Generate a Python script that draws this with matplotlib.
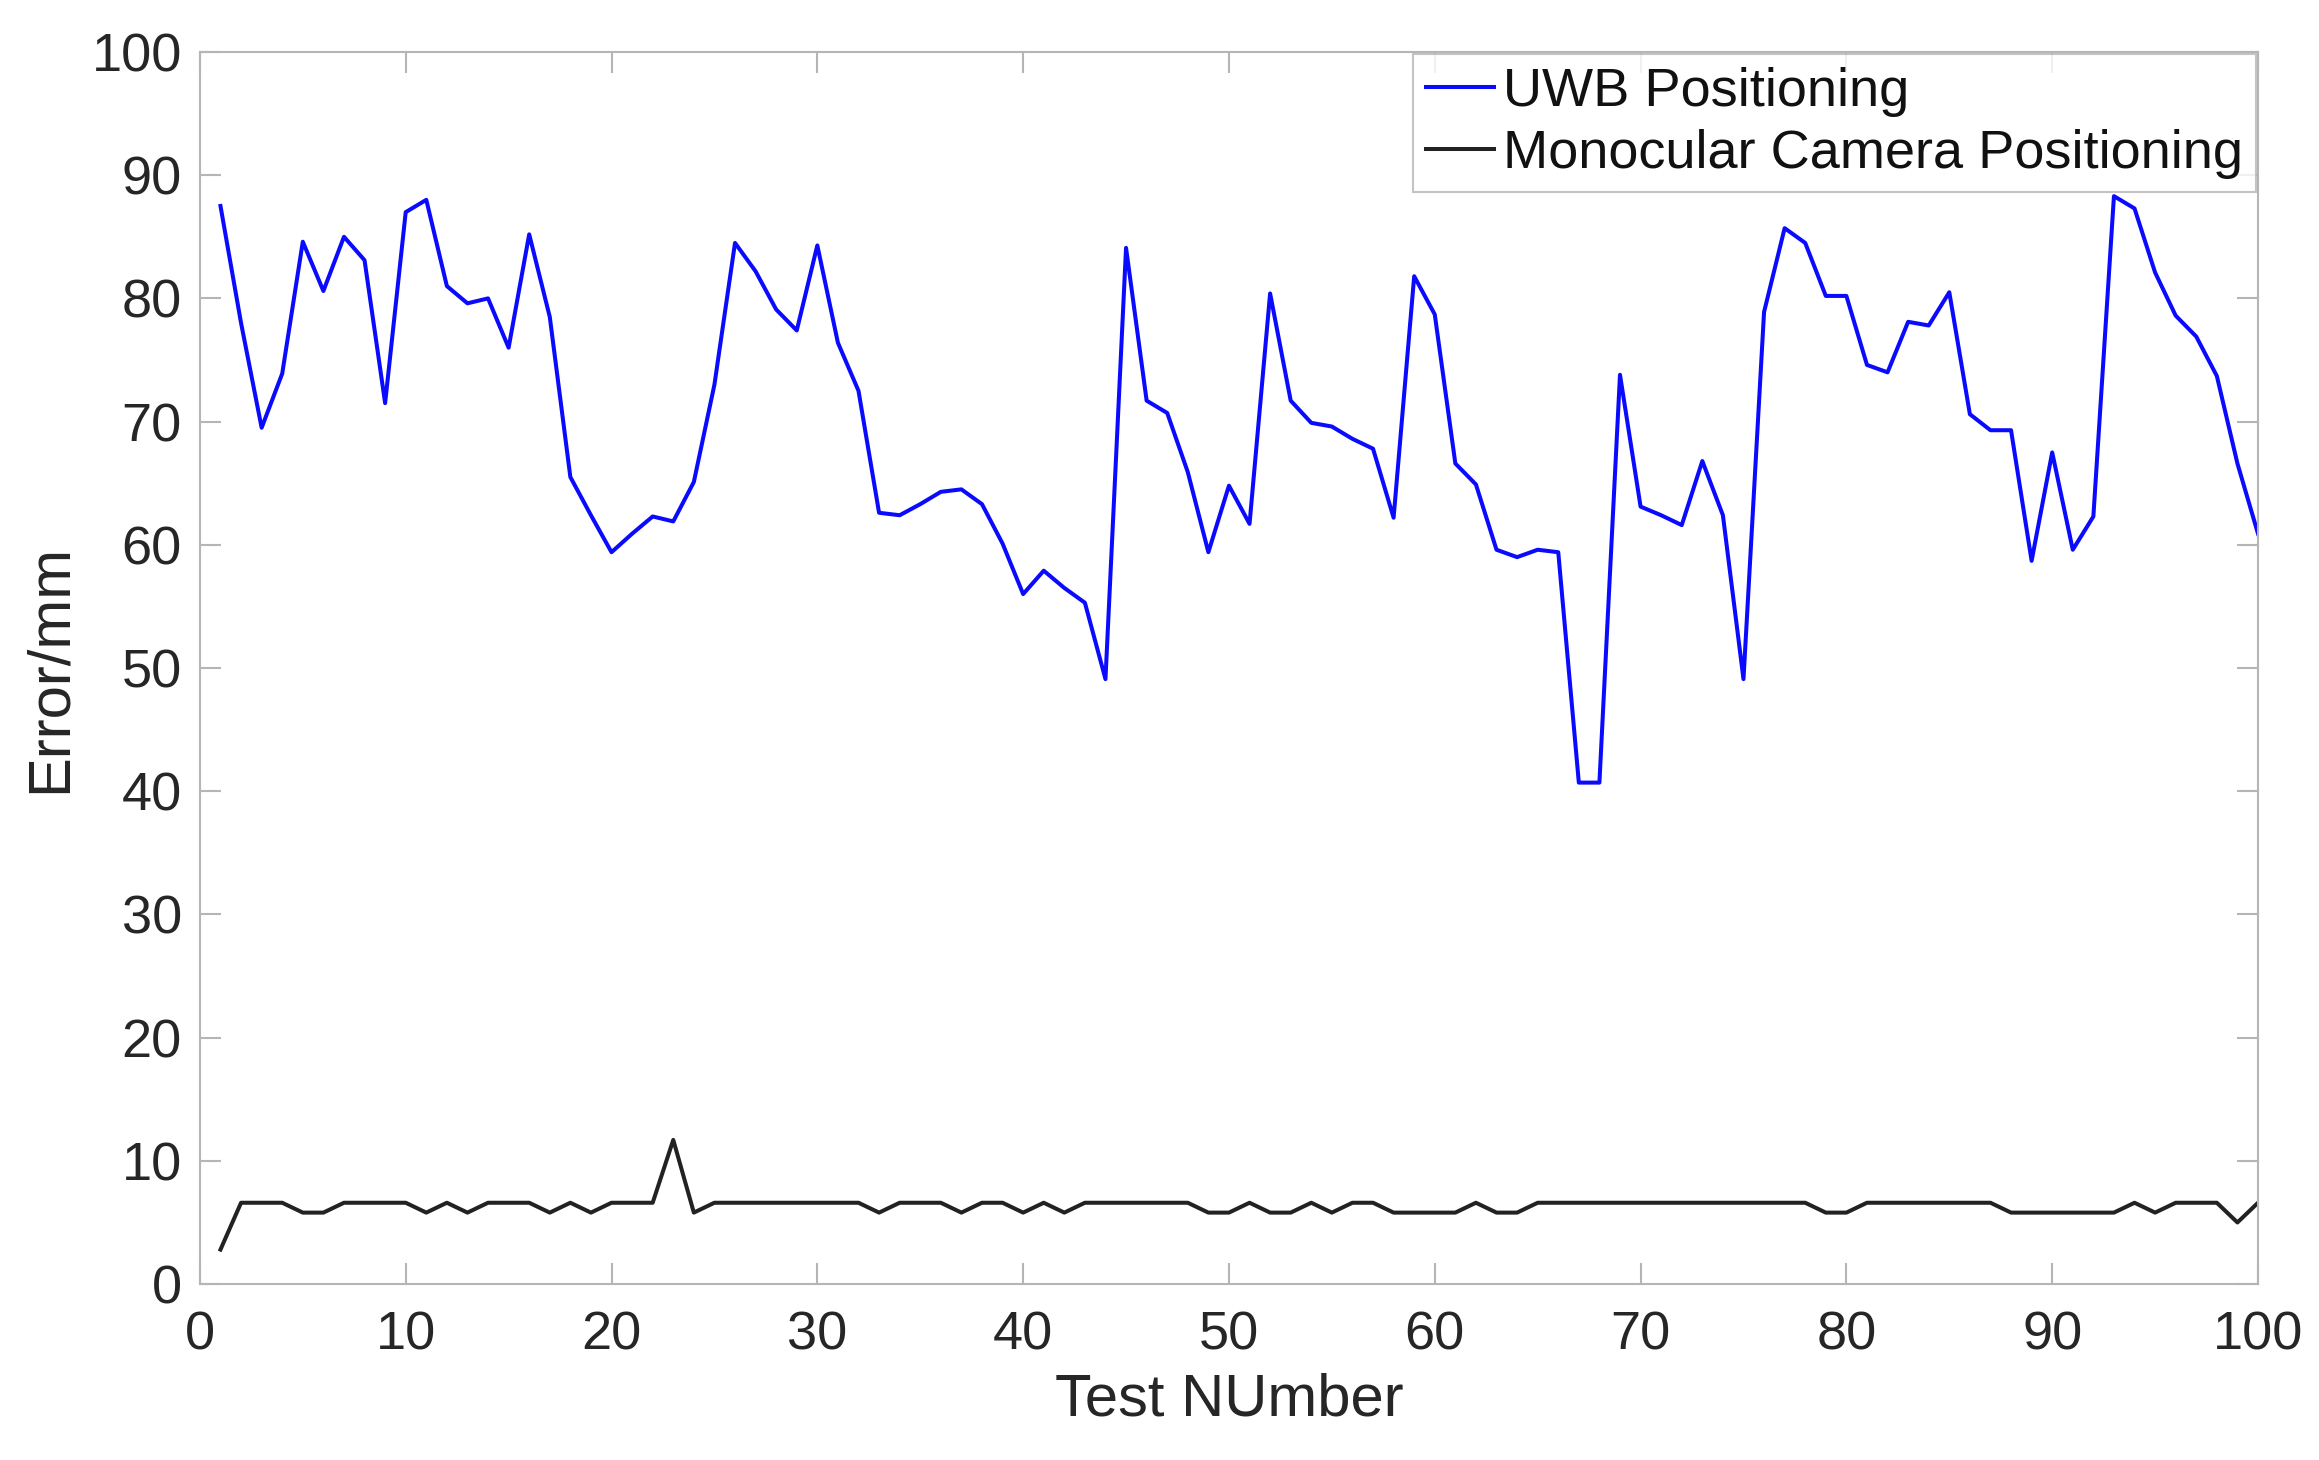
import matplotlib
matplotlib.use("Agg")
import matplotlib.pyplot as plt
import numpy as np

test_number = list(range(1, 101))
uwb_error = [87.5, 78.0, 69.5, 73.9, 84.6, 80.6, 85.0, 83.1, 71.5, 87.0,
             88.0, 81.0, 79.6, 80.0, 76.0, 85.2, 78.5, 65.5, 62.4, 59.4,
             60.9, 62.3, 61.9, 65.1, 73.0, 84.5, 82.2, 79.1, 77.4, 84.3,
             76.4, 72.5, 62.6, 62.4, 63.3, 64.3, 64.5, 63.3, 60.1, 56.0,
             57.9, 56.5, 55.3, 49.1, 84.1, 71.7, 70.7, 65.9, 59.4, 64.8,
             61.7, 80.4, 71.7, 69.9, 69.6, 68.6, 67.8, 62.2, 81.8, 78.7,
             66.6, 64.9, 59.6, 59.0, 59.6, 59.4, 40.7, 40.7, 73.8, 63.1,
             62.4, 61.6, 66.8, 62.4, 49.1, 78.9, 85.7, 84.5, 80.2, 80.2,
             74.6, 74.0, 78.1, 77.8, 80.5, 70.6, 69.3, 69.3, 58.7, 67.5,
             59.6, 62.3, 88.3, 87.3, 82.1, 78.6, 76.9, 73.7, 66.6, 60.9]
camera_error = [2.8, 6.6, 6.6, 6.6, 5.8, 5.8, 6.6, 6.6, 6.6, 6.6,
                5.8, 6.6, 5.8, 6.6, 6.6, 6.6, 5.8, 6.6, 5.8, 6.6,
                6.6, 6.6, 11.7, 5.8, 6.6, 6.6, 6.6, 6.6, 6.6, 6.6,
                6.6, 6.6, 5.8, 6.6, 6.6, 6.6, 5.8, 6.6, 6.6, 5.8,
                6.6, 5.8, 6.6, 6.6, 6.6, 6.6, 6.6, 6.6, 5.8, 5.8,
                6.6, 5.8, 5.8, 6.6, 5.8, 6.6, 6.6, 5.8, 5.8, 5.8,
                5.8, 6.6, 5.8, 5.8, 6.6, 6.6, 6.6, 6.6, 6.6, 6.6,
                6.6, 6.6, 6.6, 6.6, 6.6, 6.6, 6.6, 6.6, 5.8, 5.8,
                6.6, 6.6, 6.6, 6.6, 6.6, 6.6, 6.6, 5.8, 5.8, 5.8,
                5.8, 5.8, 5.8, 6.6, 5.8, 6.6, 6.6, 6.6, 5.0, 6.6]
x_ticks = [0, 10, 20, 30, 40, 50, 60, 70, 80, 90, 100]
y_ticks = [0, 10, 20, 30, 40, 50, 60, 70, 80, 90, 100]

plt.rcParams['font.family'] = ['Liberation Sans', 'DejaVu Sans']

fig = plt.figure(figsize=(23.19, 14.60), dpi=100)
ax = fig.add_axes([0.0862, 0.1205, 0.9737 - 0.0862, 0.9644 - 0.1205])

ax.plot(test_number, uwb_error, color='#0a0aff', lw=2.9, label='UWB Positioning')
ax.plot(test_number, camera_error, color='#222222', lw=2.9, label='Monocular Camera Positioning')

ax.set_xlim(0, 100)
ax.set_ylim(0, 100)
ax.set_xticks(x_ticks)
ax.set_yticks(y_ticks)

grey = '#b5b5b5'
for s in ax.spines.values():
    s.set_color(grey)
    s.set_linewidth(1.5)
ax.tick_params(direction='in', length=15, width=1.5, color=grey,
               labelsize=39, labelcolor='#262626', top=True, right=True)
ax.tick_params(axis='x', pad=19)
ax.tick_params(axis='y', pad=13)

ax.set_xlabel('Test NUmber', fontsize=43, color='#262626', labelpad=9)
ax.set_ylabel('Error/mm', fontsize=43, color='#262626', labelpad=10)

leg = ax.legend(loc='upper right', fontsize=39, frameon=True, fancybox=False,
                handlelength=1.25, handletextpad=0.18, borderpad=0.24,
                labelspacing=0.22, borderaxespad=0.03)
leg.get_frame().set_edgecolor(grey)
leg.get_frame().set_linewidth(1.5)
for t in leg.get_texts():
    t.set_color('#111111')

fig.savefig('out.png', dpi=100, facecolor='white')
